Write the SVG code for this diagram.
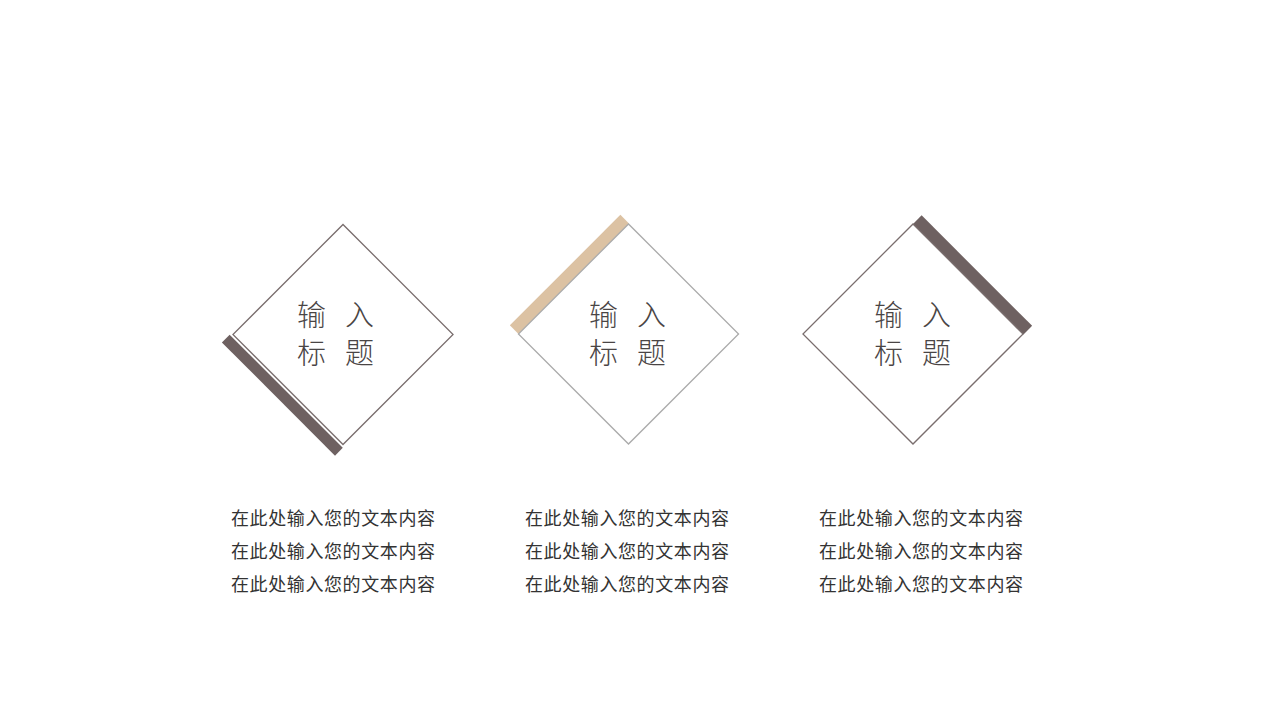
<svg xmlns="http://www.w3.org/2000/svg" width="1280" height="720" viewBox="0 0 1280 720">
<style>
.bg{fill:#ffffff}
.dia{fill:#ffffff;stroke:#7a6e6e;stroke-width:1.3}
.dia2{fill:#ffffff;stroke:#ababab;stroke-width:1.3}
.dark{fill:#6e6161}
.tan{fill:#dcc2a3}
.title{font-family:"Noto Sans CJK SC","Noto Sans CJK JP",sans-serif;font-size:29px;font-weight:300;fill:#4a4545}
.body{font-family:"Noto Sans CJK SC","Noto Sans CJK JP",sans-serif;font-size:18px;font-weight:400;fill:#333333}
</style>
<rect class="bg" x="0" y="0" width="1280" height="720"/>
<g id="connectors"></g>
<g id="node1">
  <g transform="translate(343,334.5) rotate(45)">
    <rect class="dark" x="-80" y="80.3" width="160" height="11"/>
    <rect class="dia" x="-77.8" y="-77.8" width="155.6" height="155.6"/>
  </g>
  <text class="title" x="297" y="326">输</text>
  <text class="title" x="345" y="326">入</text>
  <text class="title" x="297" y="364">标</text>
  <text class="title" x="345" y="364">题</text>
  <text class="body" x="231" y="525" textLength="204" lengthAdjust="spacing">在此处输入您的文本内容</text>
  <text class="body" x="231" y="558" textLength="204" lengthAdjust="spacing">在此处输入您的文本内容</text>
  <text class="body" x="231" y="591" textLength="204" lengthAdjust="spacing">在此处输入您的文本内容</text>
</g>
<g id="node2">
  <g transform="translate(628.5,334) rotate(45)">
    <rect class="tan" x="-90" y="-78.5" width="12.2" height="156.3"/>
    <rect class="dia2" x="-77.8" y="-77.8" width="155.6" height="155.6"/>
  </g>
  <text class="title" x="589" y="326">输</text>
  <text class="title" x="637" y="326">入</text>
  <text class="title" x="589" y="364">标</text>
  <text class="title" x="637" y="364">题</text>
  <text class="body" x="525" y="525" textLength="204" lengthAdjust="spacing">在此处输入您的文本内容</text>
  <text class="body" x="525" y="558" textLength="204" lengthAdjust="spacing">在此处输入您的文本内容</text>
  <text class="body" x="525" y="591" textLength="204" lengthAdjust="spacing">在此处输入您的文本内容</text>
</g>
<g id="node3">
  <g transform="translate(913,334) rotate(45)">
    <rect class="dark" x="-77.8" y="-90" width="156.3" height="12.2"/>
    <rect class="dia" x="-77.8" y="-77.8" width="155.6" height="155.6"/>
  </g>
  <text class="title" x="874" y="326">输</text>
  <text class="title" x="922" y="326">入</text>
  <text class="title" x="874" y="364">标</text>
  <text class="title" x="922" y="364">题</text>
  <text class="body" x="819" y="525" textLength="204" lengthAdjust="spacing">在此处输入您的文本内容</text>
  <text class="body" x="819" y="558" textLength="204" lengthAdjust="spacing">在此处输入您的文本内容</text>
  <text class="body" x="819" y="591" textLength="204" lengthAdjust="spacing">在此处输入您的文本内容</text>
</g>
</svg>
